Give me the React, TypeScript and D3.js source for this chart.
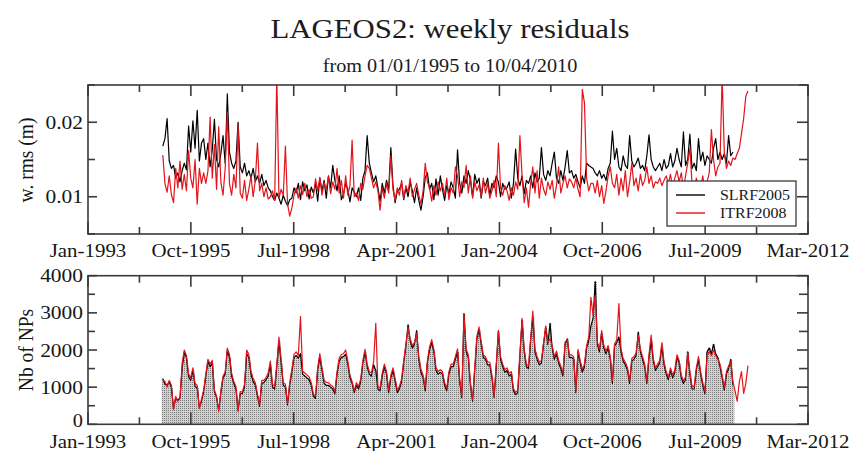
import React from "react";
import * as d3 from "d3";

// ---- series: one value every 21 days starting 01/01/1995 ----
const seriesStart = new Date(1995, 0, 1);
const stepDays = 21;

// weighted rms of the weekly residuals (m)
const rmsSLRF2005 = [
  .0168, .0178, .0205, .0148, .0138, .0142, .0125, .0132, .0120, .0135,
  .0145, .0136, .0195, .0160, .0202, .0165, .0216, .0148, .0172, .0178,
  .0150, .0172, .0140, .0163, .0204, .0150, .0140, .0158, .0182, .0145,
  .0238, .0160, .0145, .0138, .0148, .0200, .0140, .0132, .0145, .0128,
  .0135, .0125, .0138, .0120, .0128, .0118, .0130, .0115, .0122, .0112,
  .0108, .0100, .0095, .0105, .0098, .0090, .0102, .0094, .0088, .0096,
  .0098, .0112, .0105, .0118, .0096, .0120, .0108, .0116, .0097, .0113,
  .0105, .0118, .0094, .0125, .0108, .0122, .0098, .0128, .0112, .0142,
  .0122, .0108, .0128, .0096, .0104, .0118, .0110, .0093, .0112, .0106,
  .0100, .0112, .0095, .0125, .0135, .0182, .0145, .0132, .0120, .0128,
  .0112, .0094, .0118, .0105, .0122, .0110, .0166, .0115, .0092, .0108,
  .0110, .0118, .0096, .0113, .0100, .0120, .0108, .0092, .0112, .0095,
  .0082, .0100, .0126, .0132, .0110, .0118, .0096, .0124, .0102, .0128,
  .0110, .0095, .0115, .0104, .0120, .0112, .0098, .0163, .0118, .0105,
  .0128, .0118, .0135, .0122, .0100, .0130, .0118, .0125, .0098, .0120,
  .0115, .0125, .0102, .0118, .0112, .0128, .0120, .0100, .0118, .0110,
  .0112, .0120, .0098, .0118, .0164, .0125, .0115, .0128, .0104, .0122,
  .0118, .0128, .0112, .0132, .0120, .0125, .0166, .0130, .0122, .0135,
  .0128, .0145, .0160, .0125, .0118, .0135, .0122, .0140, .0162, .0132,
  .0135, .0125, .0130, .0120, .0112, .0128, .0118, .0145, .0142, .0140,
  .0138, .0132, .0128, .0135, .0125, .0130, .0122, .0138, .0145, .0188,
  .0150, .0165, .0140, .0135, .0155, .0142, .0138, .0182, .0148, .0140,
  .0145, .0152, .0138, .0142, .0135, .0155, .0183, .0150, .0140, .0135,
  .0140, .0145, .0135, .0150, .0138, .0142, .0158, .0140, .0148, .0165,
  .0150, .0140, .0187, .0142, .0150, .0184, .0138, .0145, .0135, .0178,
  .0148, .0160, .0142, .0155, .0150, .0145, .0165, .0178, .0150, .0160,
  .0150, .0158, .0145, .0182, .0155, .0160,
];

const rmsITRF2008 = [
  .0156, .0118, .0106, .0128, .0103, .0092, .0138, .0112, .0148, .0110,
  .0130, .0108, .0162, .0125, .0112, .0150, .0090, .0138, .0118, .0132,
  .0118, .0135, .0207, .0125, .0170, .0110, .0194, .0120, .0102, .0138,
  .0214, .0118, .0102, .0130, .0112, .0196, .0105, .0098, .0122, .0095,
  .0110, .0128, .0100, .0122, .0172, .0108, .0118, .0100, .0112, .0097,
  .0100, .0108, .0095, .0262, .0098, .0110, .0102, .0168, .0090, .0074,
  .0085, .0102, .0112, .0098, .0115, .0103, .0118, .0100, .0110, .0098,
  .0100, .0124, .0108, .0126, .0102, .0119, .0110, .0127, .0104, .0120,
  .0110, .0138, .0105, .0122, .0098, .0128, .0102, .0115, .0176, .0100,
  .0105, .0095, .0118, .0110, .0128, .0142, .0138, .0125, .0112, .0120,
  .0108, .0082, .0112, .0098, .0118, .0105, .0155, .0110, .0095, .0112,
  .0102, .0122, .0098, .0115, .0106, .0125, .0100, .0110, .0118, .0102,
  .0090, .0108, .0145, .0120, .0112, .0094, .0115, .0102, .0120, .0108,
  .0118, .0102, .0125, .0096, .0112, .0105, .0140, .0128, .0100, .0120,
  .0112, .0142, .0105, .0128, .0098, .0120, .0108, .0116, .0100, .0125,
  .0105, .0118, .0098, .0108, .0122, .0100, .0172, .0112, .0102, .0115,
  .0108, .0095, .0112, .0102, .0120, .0110, .0182, .0128, .0092, .0112,
  .0086, .0118, .0140, .0105, .0135, .0098, .0125, .0110, .0102, .0120,
  .0110, .0122, .0098, .0115, .0140, .0105, .0118, .0128, .0112, .0124,
  .0120, .0112, .0125, .0110, .0100, .0244, .0226, .0125, .0108, .0118,
  .0118, .0105, .0122, .0100, .0115, .0091, .0108, .0128, .0140, .0118,
  .0112, .0130, .0102, .0125, .0108, .0135, .0100, .0120, .0145, .0115,
  .0125, .0108, .0130, .0115, .0122, .0140, .0118, .0128, .0112, .0120,
  .0118, .0125, .0115, .0122, .0128, .0118, .0130, .0112, .0125, .0135,
  .0120, .0132, .0112, .0128, .0145, .0165, .0118, .0108, .0125, .0115,
  .0112, .0128, .0105, .0120, .0132, .0190, .0150, .0128, .0140, .0145,
  .0262, .0160, .0138, .0148, .0142, .0152, .0150, .0158, .0165, .0185,
  .0205, .0235, .0242,
];

// number of normal points used each week
const npSLRF2005 = [
  1230, 1080, 1050, 1150, 980, 430, 700, 650, 720, 1500,
  1950, 1780, 1280, 1180, 1450, 1020, 980, 450, 620, 880,
  1280, 1700, 1550, 1650, 880, 720, 380, 850, 1250, 1350,
  1980, 1800, 1300, 1100, 950, 380, 820, 830, 1000, 1900,
  1800, 1350, 1150, 1050, 760, 480, 1100, 1120, 1200, 1300,
  1600, 1000, 950, 1550, 2250, 1650, 1050, 1000, 520, 1050,
  1400, 1800, 1850, 1780, 1900, 1350, 1300, 1250, 1200, 1050,
  760, 700, 1450, 1800, 1450, 1100, 1050, 1050, 1000, 950,
  820, 1350, 1700, 1800, 1820, 1880, 1620, 1250, 1100, 850,
  1050, 950, 1150, 1650, 1950, 1550, 1350, 1300, 1600, 1450,
  950, 900, 1300, 1550, 1350, 850, 1250, 1450, 1150, 850,
  950, 1150, 1650, 2100, 2680, 2250, 2050, 2150, 2520, 1750,
  1400, 1250, 900, 1650, 2000, 2200, 1950, 1450, 1350, 1400,
  1350, 1050, 900, 1350, 1550, 1550, 1750, 1950, 1150, 720,
  2980, 1950, 1800, 1050, 620, 1450, 2300, 2550, 2150, 1800,
  1750, 1600, 1600, 1250, 720, 1550, 2500, 1750, 1550, 1400,
  1450, 1300, 1350, 900, 800, 850, 1850, 2800, 1950, 1550,
  1500, 2250, 2900, 1950, 1750, 1600, 1650, 2150, 2600, 2150,
  2720, 2050, 1750, 1900, 1650, 1500, 1300, 2150, 2300, 1800,
  1800, 1750, 850, 1950, 1650, 1400, 1550, 2050, 2250, 2650,
  2850, 3840, 2150, 1950, 2450, 2050, 1900, 2050, 1750, 1100,
  2100, 2200, 2350, 1950, 1700, 1600, 1450, 1100, 1700, 1750,
  1850, 2480, 1950, 1750, 1550, 1100, 1800, 2250, 1700, 1450,
  1550, 1650, 2100, 1600, 1350, 1200, 1450, 1250, 1400, 1800,
  1650, 1250, 1100, 1200, 1950, 1350, 950, 950, 1450, 1750,
  1350, 1050, 820, 1950, 2050, 1900, 2150, 1900, 1800, 1550,
  1250, 920, 1350, 1500, 1750, 1050,
];

const npITRF2008 = [
  1200, 1150, 1000, 1180, 1050, 400, 750, 620, 700, 1650,
  2000, 1850, 1350, 1250, 1520, 1100, 1050, 420, 680, 920,
  1350, 1750, 1620, 1720, 920, 760, 350, 900, 1300, 1400,
  2050, 1880, 1380, 1150, 1020, 350, 880, 870, 1080, 2000,
  1880, 1430, 1230, 1120, 820, 520, 1180, 1180, 1260, 1380,
  1700, 1080, 1020, 1620, 2350, 1750, 1120, 1080, 560, 1120,
  1480, 1880, 1950, 1850, 2900, 1430, 1380, 1330, 1280, 1120,
  820, 760, 1520, 1900, 1520, 1180, 1130, 1120, 1060, 1020,
  880, 1420, 1780, 1880, 1900, 2000, 1700, 1320, 1150, 900,
  1120, 1020, 1220, 1720, 2020, 1620, 1420, 1380, 1680, 2720,
  1020, 980, 1380, 1620, 1420, 920, 1320, 1520, 1220, 920,
  1020, 1220, 1720, 2150, 2600, 2300, 2120, 2200, 2450, 1820,
  1480, 1320, 970, 1720, 2080, 2280, 2020, 1520, 1420, 1470,
  1420, 1120, 970, 1420, 1620, 1620, 1820, 2030, 1220, 760,
  2950, 2020, 1870, 1120, 660, 1520, 2370, 2620, 2220, 1870,
  1820, 1680, 1670, 1320, 760, 1620, 2530, 1820, 1620, 1470,
  1520, 1370, 1420, 960, 860, 920, 1920, 2850, 2020, 1620,
  1570, 2320, 3050, 2020, 1820, 1670, 1720, 2200, 2650, 2200,
  2300, 2120, 1820, 1970, 1720, 1570, 1370, 2220, 2280, 1870,
  1870, 1820, 900, 2020, 1720, 1470, 1620, 2120, 2350, 3420,
  2950, 3480, 2220, 2020, 2520, 2120, 1970, 2120, 1820, 1180,
  2170, 2270, 3250, 2020, 1770, 1670, 1520, 1170, 1770, 1820,
  1920, 2400, 2020, 1820, 1620, 1170, 1880, 2400, 1770, 1520,
  1620, 1720, 2200, 1670, 1420, 1270, 1520, 1320, 1470, 1870,
  1720, 1320, 1170, 1270, 1920, 1420, 1020, 1020, 1520, 1820,
  1420, 1120, 880, 1850, 1950, 1850, 2000, 1850, 1750, 1620,
  1320, 980, 1420, 1570, 1700, 1150, 900, 620, 1150, 1420,
  830, 1100, 1580,
];

// ---- axes ----
const axisStart = new Date(1993, 0, 1);
const axisEnd = new Date(2012, 2, 30);
const xTickLabels = ["Jan-1993", "Oct-1995", "Jul-1998", "Apr-2001", "Jan-2004", "Oct-2006", "Jul-2009", "Mar-2012"];
const rmsMajorTicks = [0.01, 0.02];
const rmsMinorTicks = [0.005, 0.015, 0.025];
const npMajorTicks = [0, 1000, 2000, 3000, 4000];
const npMinorTicks = [500, 1500, 2500, 3500];
const legendEntries = [
  { name: "SLRF2005", color: "#000000" },
  { name: "ITRF2008", color: "#e3141b" },
];

const W = 850;
const H = 451;
const LEFT = 88;
const RIGHT = 808;
const FONT = "'Liberation Serif', 'Times New Roman', Times, serif";
const STRETCH = 1.1;
const FRAME = "#3a3a3a";
const BLACK = legendEntries[0].color;
const RED = legendEntries[1].color;

const dateAt = (i: number) => d3.timeDay.offset(seriesStart, i * stepDays);

const x = d3.scaleTime().domain([axisStart, axisEnd]).range([LEFT, RIGHT]);
const majorDates = xTickLabels.map(
  (_, k) => new Date(axisStart.getTime() + (k * (axisEnd.getTime() - axisStart.getTime())) / (xTickLabels.length - 1))
);
const minorDates = d3.range(majorDates.length - 1).map(
  (k) => new Date((majorDates[k].getTime() + majorDates[k + 1].getTime()) / 2)
);

const yRms = d3.scaleLinear().domain([0.005, 0.025]).range([234, 85]);
const yNp = d3.scaleLinear().domain([0, 4000]).range([424.3, 275.7]);

function Label({ x: lx, y: ly, size, anchor = "middle", children, fill = "#161616" }: any) {
  return (
    <text
      transform={`translate(${lx},${ly}) scale(${STRETCH},1)`}
      fontSize={size}
      textAnchor={anchor}
      fontFamily={FONT}
      fill={fill}
    >
      {children}
    </text>
  );
}

function Panel({ y, top, bottom, major, minor, fmt, labelBaseline, title, titleY, clipId, children }: any) {
  return (
    <g>
      <defs>
        <clipPath id={clipId}>
          <rect x={LEFT} y={top} width={RIGHT - LEFT} height={bottom - top} />
        </clipPath>
      </defs>
      <g clipPath={`url(#${clipId})`}>{children}</g>
      <g stroke={FRAME} strokeWidth={1.6}>
        {majorDates.map((d, k) => (
          <g key={`M${k}`}>
            <line x1={x(d)} x2={x(d)} y1={top} y2={top + 11} />
            <line x1={x(d)} x2={x(d)} y1={bottom} y2={bottom - 12} />
          </g>
        ))}
        {minorDates.map((d, k) => (
          <g key={`m${k}`}>
            <line x1={x(d)} x2={x(d)} y1={top} y2={top + 7} />
            <line x1={x(d)} x2={x(d)} y1={bottom} y2={bottom - 7} />
          </g>
        ))}
        {major.map((v: number) => (
          <g key={`yM${v}`}>
            <line x1={LEFT} x2={LEFT + 9} y1={y(v)} y2={y(v)} />
            <line x1={RIGHT} x2={RIGHT - 11} y1={y(v)} y2={y(v)} />
          </g>
        ))}
        {minor.map((v: number) => (
          <g key={`ym${v}`}>
            <line x1={LEFT} x2={LEFT + 7} y1={y(v)} y2={y(v)} />
            <line x1={RIGHT} x2={RIGHT - 9} y1={y(v)} y2={y(v)} />
          </g>
        ))}
        <rect x={LEFT} y={top} width={RIGHT - LEFT} height={bottom - top} fill="none" />
      </g>
      {majorDates.map((d, k) => (
        <Label key={`xl${k}`} x={x(d)} y={labelBaseline} size={19}>
          {xTickLabels[k]}
        </Label>
      ))}
      {major.map((v: number) => (
        <Label
          key={`yl${v}`}
          x={83}
          y={y(v) + 6.5 - (v === 0 ? 4.3 : 0)}
          size={v === 0 ? 18.5 : 19.5}
          anchor="end"
        >
          {fmt(v)}
        </Label>
      ))}
      <text
        transform={`translate(33,${titleY}) rotate(-90) scale(1,${STRETCH})`}
        fontSize={19.5}
        textAnchor="middle"
        fontFamily={FONT}
        fill="#161616"
      >
        {title}
      </text>
    </g>
  );
}

export default function App() {
  const rmsLine = d3
    .line<number>()
    .x((_, i) => x(dateAt(i)))
    .y((v) => yRms(v));
  const npLine = d3
    .line<number>()
    .x((_, i) => x(dateAt(i)))
    .y((v) => yNp(v));
  const bw = x(dateAt(1)) - x(dateAt(0));

  return (
    <svg
      width={W}
      height={H}
      viewBox={`0 0 ${W} ${H}`}
      style={{ position: "absolute", left: 0, top: 0, display: "block", background: "#ffffff" }}
    >
      <defs>
        <pattern id="stipple" width={2} height={2} patternUnits="userSpaceOnUse">
          <rect width={2} height={2} fill="#d0d0d0" />
          <rect width={1} height={1} fill="#7a7a7a" />
        </pattern>
      </defs>

      <Label x={450} y={38} size={28} fill="#1c1c1c">LAGEOS2: weekly residuals</Label>
      <Label x={450} y={72} size={18.4} fill="#1c1c1c">from 01/01/1995 to 10/04/2010</Label>

      <Panel
        y={yRms}
        top={85}
        bottom={234}
        major={rmsMajorTicks}
        minor={rmsMinorTicks}
        fmt={(v: number) => v.toFixed(2)}
        labelBaseline={257}
        title="w. rms (m)"
        titleY={160}
        clipId="clipRms"
      >
        <path d={rmsLine(rmsSLRF2005) || ""} fill="none" stroke={BLACK} strokeWidth={1.2} strokeLinejoin="round" />
        <path d={rmsLine(rmsITRF2008) || ""} fill="none" stroke={RED} strokeWidth={1.2} strokeLinejoin="round" />
      </Panel>

      {/* legend */}
      <g>
        <rect x={667} y={181} width={129} height={45} fill="#ffffff" stroke={FRAME} strokeWidth={1.3} />
        {legendEntries.map((e, k) => (
          <g key={e.name}>
            <line x1={676} x2={705} y1={195 + k * 18} y2={195 + k * 18} stroke={e.color} strokeWidth={1.4} />
            <Label x={720} y={200 + k * 18} size={14.5} anchor="start">
              {e.name}
            </Label>
          </g>
        ))}
      </g>

      <Panel
        y={yNp}
        top={275.7}
        bottom={424.3}
        major={npMajorTicks}
        minor={npMinorTicks}
        fmt={(v: number) => String(v)}
        labelBaseline={448}
        title="Nb of NPs"
        titleY={350}
        clipId="clipNp"
      >
        <g fill="url(#stipple)">
          {npSLRF2005.map((v, i) => (
            <rect
              key={i}
              x={x(dateAt(i)) - bw / 2}
              width={bw + 0.4}
              y={yNp(v)}
              height={yNp(0) - yNp(v)}
            />
          ))}
        </g>
        <path d={npLine(npSLRF2005) || ""} fill="none" stroke={BLACK} strokeWidth={1.2} strokeLinejoin="round" />
        <path d={npLine(npITRF2008) || ""} fill="none" stroke={RED} strokeWidth={1.2} strokeLinejoin="round" />
      </Panel>
    </svg>
  );
}
